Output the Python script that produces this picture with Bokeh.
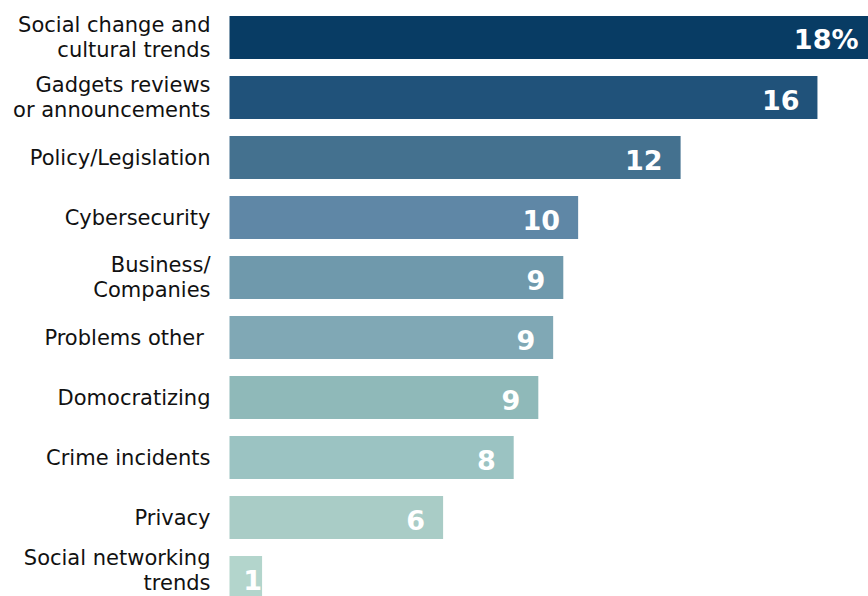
from bokeh.plotting import figure
from bokeh.models import ColumnDataSource, Range1d
from bokeh.embed import file_html
from bokeh.resources import INLINE
from bokeh.core.properties import value

categories = [
    "Social change and\ncultural trends",
    "Gadgets reviews\nor announcements",
    "Policy/Legislation",
    "Cybersecurity",
    "Business/\nCompanies",
    "Problems other ",
    "Domocratizing",
    "Crime incidents",
    "Privacy",
    "Social networking\ntrends",
]
values = [17.65, 16.24, 12.46, 9.63, 9.22, 8.94, 8.53, 7.85, 5.90, 0.90]
value_labels = ["18%", "16", "12", "10", "9", "9", "9", "8", "6", "1"]
colors = ["#083c64", "#20527a", "#44718f", "#5f87a6", "#6f99ac",
          "#80a8b5", "#8fb9b9", "#9bc3c2", "#a9ccc6", "#b3d5cc"]
label_offsets = [-10, -18, -18, -18, -18, -18, -18, -18, -18, 0]
cat_yoff = [0, 0, 0, 0, 0, 0, 0, 0, 0, -7]

W, H = 868, 596
left_px = 229
k = (W - left_px) / values[0]
pos = list(range(len(categories)))

src = ColumnDataSource(dict(y=pos, v=values, cat=categories, lab=value_labels,
                            color=colors, off=label_offsets, cyoff=cat_yoff))

p = figure(width=W, height=H, output_backend="svg", toolbar_location=None,
           x_range=Range1d(-left_px / k, values[0]),
           y_range=Range1d((H - 37) / 60, -37 / 60),
           min_border=0)
p.axis.visible = False
p.grid.visible = False
p.outline_line_color = None
p.background_fill_color = "white"

p.hbar(y="y", left=0, right="v", height=43 / 60, fill_color="color",
       line_color=None, source=src)

p.text(x=0, y="y", text="cat", source=src, x_offset=-19, y_offset="cyoff",
       text_align="right", text_baseline="middle",
       text_font=value("DejaVu Sans"), text_font_size="21px",
       text_color="#111111", text_line_height=1.05)

p.text(x="v", y="y", text="lab", source=src, x_offset="off", y_offset=2,
       text_align="right", text_baseline="middle",
       text_font=value("DejaVu Sans"), text_font_size="27px",
       text_font_style="bold", text_color="white")

open("out.html", "w").write(file_html(p, INLINE))
